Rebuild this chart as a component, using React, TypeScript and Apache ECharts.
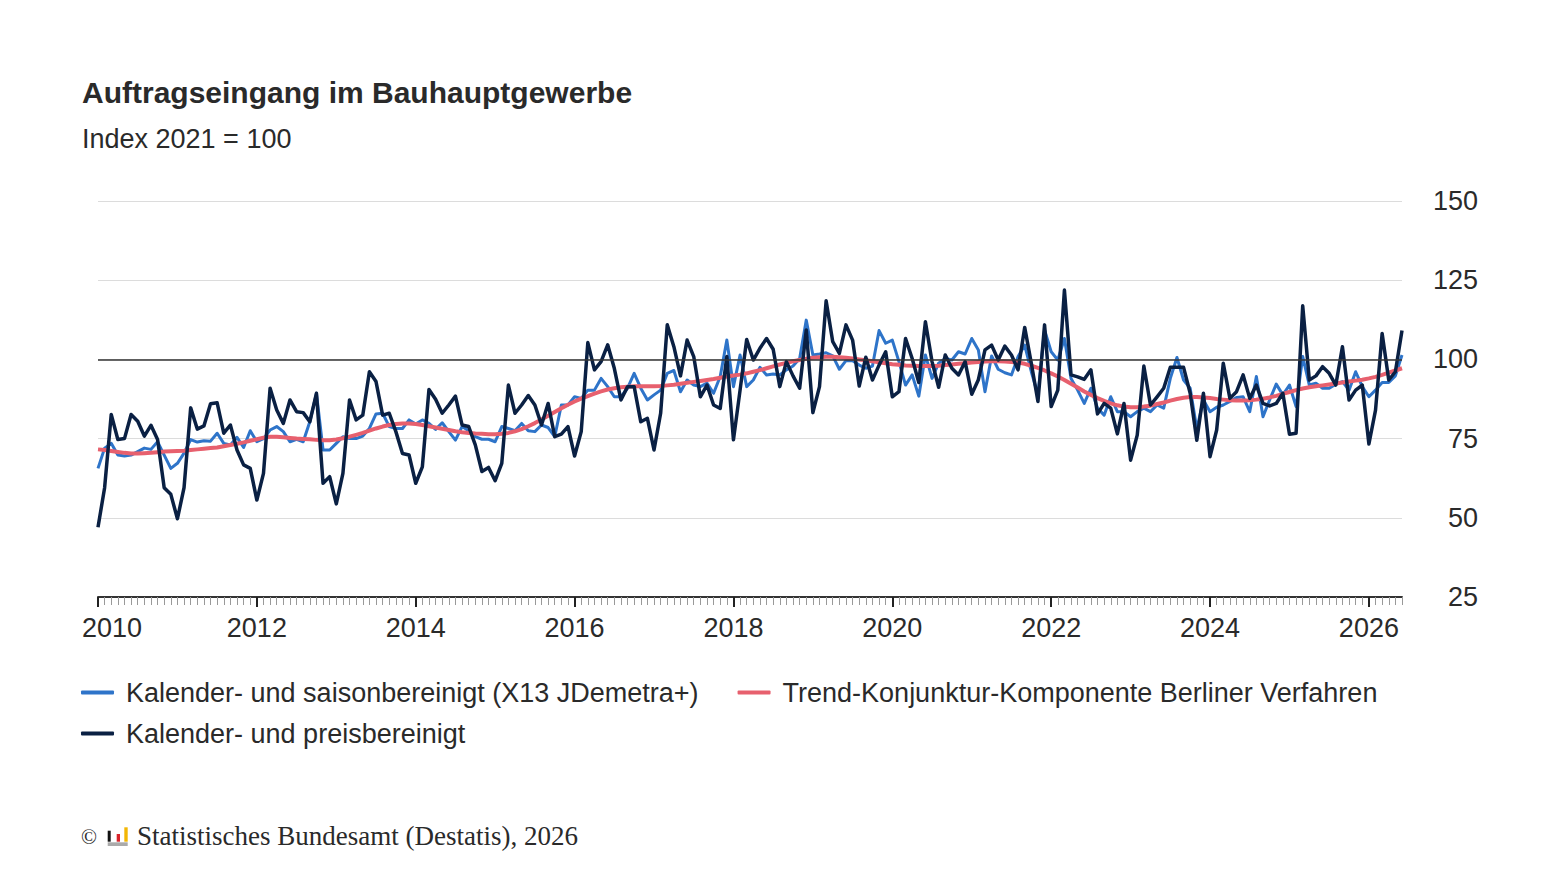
import React, { useEffect, useRef } from "react";
import * as echarts from "echarts";

const START_YEAR = 2010;

const seriesNames = [
  "Kalender- und saisonbereinigt (X13 JDemetra+)",
  "Trend-Konjunktur-Komponente Berliner Verfahren",
  "Kalender- und preisbereinigt",
];

const yTicks = [25, 50, 75, 100, 125, 150];

// Kalender- und saisonbereinigt (X13 JDemetra+), monthly from Jan 2010
const saisonbereinigt = [
  65.6, 72.0, 73.5, 69.8, 69.5, 69.8, 70.9, 72.0, 71.6, 74.0, 69.8, 65.6,
  67.2, 70.4, 74.7, 73.9, 74.3, 74.2, 76.7, 73.5, 73.0, 75.4, 72.2, 77.5,
  74.0, 75.0, 77.7, 78.8, 77.2, 74.0, 74.8, 74.0, 80.3, 89.3, 71.4, 71.4,
  73.5, 75.6, 75.0, 75.0, 75.8, 78.2, 82.8, 83.0, 78.8, 78.2, 78.2, 80.9,
  79.6, 80.9, 79.8, 77.9, 80.0, 77.2, 74.5, 78.8, 77.5, 75.6, 74.8, 74.8,
  74.0, 78.8, 78.2, 77.5, 79.8, 77.5, 77.2, 79.3, 78.5, 75.6, 85.6, 85.6,
  88.2, 87.7, 90.3, 90.3, 94.0, 91.4, 88.2, 88.2, 90.9, 95.6, 90.9, 87.2,
  88.8, 90.3, 95.6, 96.5, 89.8, 93.5, 91.9, 91.4, 92.5, 89.3, 94.6, 106.1,
  91.4, 101.4, 91.4, 93.5, 97.5, 95.1, 95.4, 95.1, 96.7, 97.9, 100.3, 112.4,
  101.4, 101.7, 102.1, 101.1, 96.9, 99.6, 99.6, 98.2, 97.2, 97.9, 109.1, 105.1,
  106.1, 99.3, 91.9, 95.1, 88.4, 101.4, 94.0, 98.8, 100.3, 99.8, 102.4, 101.7,
  106.6, 103.0, 89.8, 101.1, 96.9, 95.8, 95.1, 100.9, 104.5, 96.1, 88.8, 109.3,
  102.4, 99.8, 106.6, 94.0, 90.3, 86.1, 90.9, 84.6, 82.4, 88.2, 83.5, 83.5,
  81.9, 83.5, 84.6, 83.5, 85.6, 84.6, 94.0, 100.6, 93.5, 90.9, 78.0, 87.2,
  83.5, 84.9, 85.6, 86.7, 88.0, 88.2, 83.5, 94.6, 81.9, 87.2, 92.2, 88.8,
  91.9, 85.1, 100.9, 91.9, 92.5, 90.9, 90.9, 92.2, 93.0, 90.3, 96.1, 91.4,
  88.2, 90.3, 92.7, 92.7, 94.8, 101.4,
];

// Trend-Konjunktur-Komponente Berliner Verfahren
const trend = [
  71.6, 71.4, 71.1, 70.8, 70.5, 70.3, 70.3, 70.4, 70.5, 70.7, 70.9, 71.0,
  71.1, 71.2, 71.4, 71.6, 71.8, 72.0, 72.2, 72.6, 73.0, 73.4, 73.8, 74.3,
  74.8, 75.3, 75.6, 75.6, 75.4, 75.2, 75.0, 74.9, 74.8, 74.6, 74.5, 74.5,
  74.7, 75.1, 75.6, 76.2, 76.8, 77.5, 78.2, 78.8, 79.3, 79.6, 79.8, 79.8,
  79.6, 79.3, 78.9, 78.5, 78.1, 77.7, 77.3, 77.0, 76.8, 76.6, 76.5, 76.4,
  76.4, 76.5, 76.8, 77.3, 78.0, 78.9, 79.9, 81.0, 82.2, 83.4, 84.6, 85.7,
  86.7, 87.6, 88.4, 89.2, 89.9, 90.5, 90.9, 91.2, 91.4, 91.5, 91.5, 91.5,
  91.5, 91.6, 91.8, 92.0, 92.3, 92.6, 92.9, 93.2, 93.5, 93.8, 94.2, 94.6,
  94.9, 95.2, 95.6, 96.1, 96.6, 97.2, 97.8, 98.4, 98.9, 99.4, 99.8, 100.2,
  100.5, 100.7, 100.8, 100.8, 100.7, 100.5, 100.3, 100.0, 99.7, 99.4, 99.1, 98.8,
  98.5, 98.3, 98.1, 98.0, 97.9, 97.9, 97.9, 98.0, 98.2, 98.4, 98.6, 98.8,
  99.0, 99.2, 99.3, 99.4, 99.4, 99.3, 99.2, 99.0, 98.6, 98.0, 97.3, 96.5,
  95.6, 94.6, 93.5, 92.3, 91.1, 89.9, 88.8, 87.8, 86.9, 86.1, 85.5, 85.1,
  84.9, 84.9, 85.1, 85.4, 85.9, 86.4, 87.0, 87.5, 87.9, 88.1, 88.1, 88.0,
  87.8, 87.5, 87.3, 87.1, 87.0, 87.0, 87.1, 87.3, 87.6, 88.0, 88.5, 89.1,
  89.7, 90.3, 90.8, 91.2, 91.5, 91.8, 92.1, 92.4, 92.7, 93.0, 93.3, 93.6,
  94.0, 94.5, 95.1, 95.8, 96.5, 97.2,
];

// Kalender- und preisbereinigt
const preisbereinigt = [
  47.0, 59.5, 82.6, 74.7, 75.0, 82.6, 80.5, 75.8, 79.2, 74.7, 59.5, 57.4,
  49.7, 59.5, 84.7, 78.0, 79.0, 86.0, 86.3, 76.7, 79.3, 71.4, 66.7, 65.6,
  55.6, 64.0, 90.9, 84.0, 79.8, 87.2, 83.5, 83.2, 80.3, 89.3, 60.9, 63.0,
  54.4, 64.0, 87.2, 80.9, 82.4, 96.1, 93.0, 82.4, 83.0, 77.2, 70.3, 69.8,
  60.9, 66.1, 90.5, 87.4, 83.0, 85.6, 88.4, 79.3, 78.8, 73.0, 64.6, 65.9,
  61.7, 67.2, 91.9, 83.0, 85.6, 88.6, 85.6, 79.3, 86.1, 75.6, 76.4, 78.8,
  69.5, 77.2, 105.3, 96.7, 99.3, 104.6, 97.2, 87.2, 91.4, 91.4, 80.3, 81.4,
  71.4, 83.0, 110.9, 104.0, 94.8, 106.1, 100.9, 88.2, 91.9, 85.6, 84.5, 100.9,
  74.6, 90.3, 106.3, 99.8, 103.5, 106.6, 103.2, 91.4, 99.3, 94.8, 90.9, 109.3,
  83.2, 91.4, 118.5, 105.6, 101.9, 110.9, 106.1, 91.6, 100.7, 93.5, 98.2, 102.4,
  88.2, 89.8, 106.6, 100.3, 92.7, 111.9, 99.3, 91.2, 101.4, 97.2, 95.1, 99.3,
  89.0, 93.6, 103.0, 104.5, 99.8, 104.2, 101.4, 96.7, 110.1, 98.8, 86.7, 110.9,
  85.1, 90.3, 121.9, 95.1, 94.5, 93.7, 96.7, 82.8, 86.1, 84.6, 76.5, 86.1,
  68.2, 76.1, 97.9, 85.6, 88.2, 90.9, 97.5, 97.5, 97.5, 89.3, 74.5, 89.3,
  69.3, 77.7, 98.8, 87.7, 89.8, 95.1, 87.7, 91.9, 86.1, 85.3, 86.1, 89.3,
  76.4, 76.7, 116.9, 93.5, 94.8, 97.7, 95.6, 91.9, 104.0, 87.2, 90.3, 91.9,
  73.3, 84.0, 108.2, 93.5, 96.1, 109.1,
];

const months: string[] = preisbereinigt.map((_, i) => {
  const y = START_YEAR + Math.floor(i / 12);
  const m = (i % 12) + 1;
  return `${y}-${m < 10 ? "0" + m : m}`;
});

const SANS = "'Liberation Sans', Arial, Helvetica, sans-serif";
const SERIF = "'Liberation Serif', 'Times New Roman', serif";
const C_BLUE = "#2e74c9";
const C_RED = "#e7606e";
const C_DARK = "#0a2043";
const C_TEXT = "#2a2a2a";
const FS = 27;

export default function App() {
  const ref = useRef<HTMLDivElement>(null);

  useEffect(() => {
    if (!ref.current) return;
    const chart = echarts.init(ref.current, undefined, { renderer: "svg" });

    const legendText = {
      fontSize: FS,
      color: C_TEXT,
      fontFamily: SANS,
      padding: [0, 0, 0, 7],
    };

    chart.setOption({
      animation: false,
      backgroundColor: "#ffffff",
      grid: { left: 98, right: 158, top: 201, bottom: 281, containLabel: false },
      xAxis: [
        {
          type: "category",
          data: months,
          boundaryGap: false,
          position: "bottom",
          axisLine: { show: true, lineStyle: { color: "#333", width: 2 } },
          axisTick: {
            show: true,
            interval: 0,
            length: 8,
            lineStyle: { color: "#999", width: 1 },
          },
          axisLabel: {
            show: true,
            interval: (index: number) => index % 24 === 0,
            margin: 17,
            fontSize: FS,
            color: C_TEXT,
            fontFamily: SANS,
            formatter: (value: string, index: number) =>
              index === 0 ? `{first|${value.slice(0, 4)}}` : value.slice(0, 4),
            rich: {
              first: {
                fontSize: FS,
                color: C_TEXT,
                fontFamily: SANS,
                padding: [0, 0, 0, 28],
              },
            },
          },
          splitLine: { show: false },
        },
        {
          type: "category",
          data: months,
          boundaryGap: false,
          position: "bottom",
          axisLine: { show: false },
          axisTick: {
            show: true,
            interval: (index: number) => index % 24 === 0,
            length: 10,
            lineStyle: { color: "#222", width: 2 },
          },
          axisLabel: { show: false },
          splitLine: { show: false },
        },
      ],
      yAxis: {
        type: "value",
        position: "right",
        min: yTicks[0],
        max: yTicks[yTicks.length - 1],
        interval: 25,
        axisLine: { show: false },
        axisTick: { show: false },
        axisLabel: {
          align: "right",
          margin: 76,
          fontSize: FS,
          color: C_TEXT,
          fontFamily: SANS,
        },
        splitLine: { show: true, lineStyle: { color: "#dcdcdc", width: 1 } },
      },
      legend: [
        {
          left: 81,
          top: 679,
          padding: 0,
          itemGap: 39,
          itemWidth: 33,
          itemHeight: 4,
          icon: "roundRect",
          selectedMode: false,
          data: [seriesNames[0], seriesNames[1]],
          textStyle: legendText,
        },
        {
          left: 81,
          top: 720,
          padding: 0,
          itemGap: 39,
          itemWidth: 33,
          itemHeight: 4,
          icon: "roundRect",
          selectedMode: false,
          data: [seriesNames[2]],
          textStyle: legendText,
        },
      ],
      series: [
        {
          name: seriesNames[0],
          type: "line",
          xAxisIndex: 0,
          data: saisonbereinigt,
          showSymbol: false,
          symbol: "none",
          color: C_BLUE,
          lineStyle: { color: C_BLUE, width: 3, join: "round" },
          markLine: {
            silent: true,
            symbol: "none",
            label: { show: false },
            lineStyle: { color: "#333", width: 1.5, type: "solid" },
            data: [{ yAxis: 100 }],
          },
        },
        {
          name: seriesNames[1],
          type: "line",
          xAxisIndex: 0,
          data: trend,
          showSymbol: false,
          symbol: "none",
          color: C_RED,
          lineStyle: { color: C_RED, width: 4, join: "round" },
        },
        {
          name: seriesNames[2],
          type: "line",
          xAxisIndex: 0,
          data: preisbereinigt,
          showSymbol: false,
          symbol: "none",
          color: C_DARK,
          lineStyle: { color: C_DARK, width: 3.5, join: "round" },
        },
      ],
      graphic: [
        {
          type: "text",
          x: 82,
          y: 92,
          style: {
            text: "Auftragseingang im Bauhauptgewerbe",
            fill: C_TEXT,
            fontSize: 30,
            fontWeight: "bold",
            fontFamily: SANS,
            textAlign: "left",
            textVerticalAlign: "middle",
            align: "left",
            verticalAlign: "middle",
          },
        },
        {
          type: "text",
          x: 82,
          y: 139,
          style: {
            text: "Index 2021 = 100",
            fill: C_TEXT,
            fontSize: FS,
            fontFamily: SANS,
            textAlign: "left",
            textVerticalAlign: "middle",
            align: "left",
            verticalAlign: "middle",
          },
        },
        {
          type: "text",
          x: 81,
          y: 837,
          style: {
            text: "©",
            fill: C_TEXT,
            fontSize: 21,
            fontFamily: SERIF,
            textAlign: "left",
            textVerticalAlign: "middle",
            align: "left",
            verticalAlign: "middle",
          },
        },
        { type: "rect", shape: { x: 107.7, y: 830.7, width: 3, height: 11 }, style: { fill: "#111" } },
        { type: "rect", shape: { x: 116.7, y: 834, width: 3.3, height: 7.7 }, style: { fill: "#d9242b" } },
        { type: "rect", shape: { x: 124.3, y: 827.3, width: 3.4, height: 14.4 }, style: { fill: "#f2b705" } },
        { type: "rect", shape: { x: 107.7, y: 842.3, width: 20, height: 3.7 }, style: { fill: "#aaaaaa" } },
        {
          type: "text",
          x: 137,
          y: 836,
          style: {
            text: "Statistisches Bundesamt (Destatis), 2026",
            fill: C_TEXT,
            fontSize: FS,
            fontFamily: SERIF,
            textAlign: "left",
            textVerticalAlign: "middle",
            align: "left",
            verticalAlign: "middle",
          },
        },
      ],
    });

    return () => {
      chart.dispose();
    };
  }, []);

  return (
    <div
      ref={ref}
      style={{ position: "fixed", left: 0, top: 0, width: 1560, height: 878, background: "#fff" }}
    />
  );
}
